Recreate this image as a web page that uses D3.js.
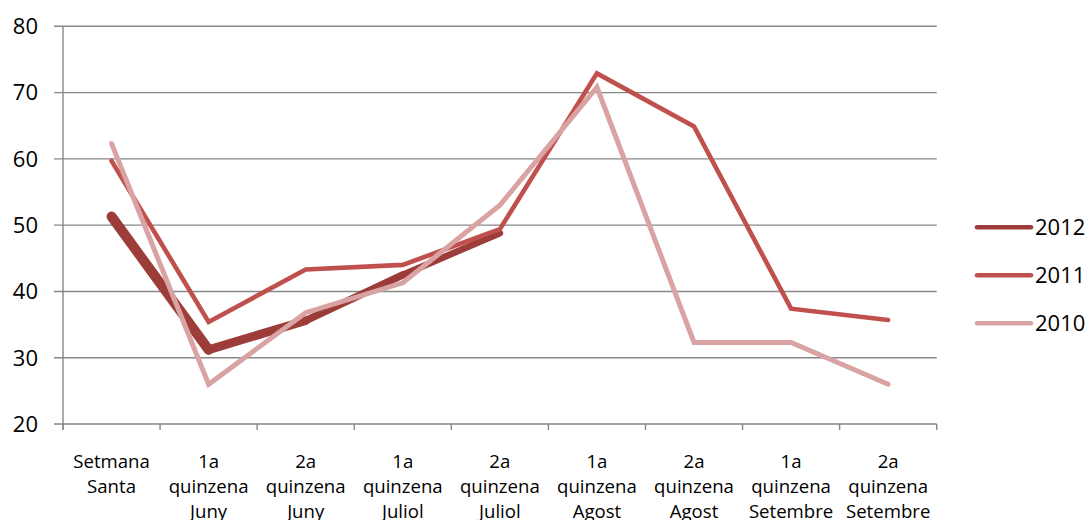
<!DOCTYPE html>
<html><head><meta charset="utf-8">
<script src="https://cdn.jsdelivr.net/npm/d3@7"></script>
<style>body{margin:0;background:#fff}svg{display:block}</style>
</head><body>
<svg id="c" width="1089" height="520"></svg>
<script>
const categories = [
  ["Setmana","Santa"],
  ["1a","quinzena","Juny"],
  ["2a","quinzena","Juny"],
  ["1a","quinzena","Juliol"],
  ["2a","quinzena","Juliol"],
  ["1a","quinzena","Agost"],
  ["2a","quinzena","Agost"],
  ["1a","quinzena","Setembre"],
  ["2a","quinzena","Setembre"]
];
const seriesNames = ["2012","2011","2010"];
const values2012 = [51.3, 31.2, 35.6, 42.5, 48.8, null, null, null, null];
const values2011 = [59.7, 35.4, 43.3, 44.0, 49.4, 72.9, 64.9, 37.4, 35.7];
const values2010 = [62.3, 26.0, 36.8, 41.3, 53.0, 70.8, 32.3, 32.3, 26.0];
const yTicks = [20, 30, 40, 50, 60, 70, 80];
const colors = {"2012":"#9C3D3A","2011":"#C0504D","2010":"#D8A3A2"};

(function(){
const svg = d3.select("#c");
const mL = 63, mR = 936.7, mT = 26.3, mB = 424;
const x = d3.scaleBand().domain(d3.range(categories.length)).range([mL, mR]);
const y = d3.scaleLinear().domain([20, 80]).range([mB, mT]);
const gridCol = "#878787";
const font = "'Open Sans', sans-serif";

// gridlines
svg.append("g").selectAll("line").data(yTicks).join("line")
  .attr("x1", mL - 9).attr("x2", mR)
  .attr("y1", d => y(d)).attr("y2", d => y(d))
  .attr("stroke", gridCol).attr("stroke-width", 1.4);
// y axis line
svg.append("line").attr("x1", mL).attr("x2", mL).attr("y1", mT).attr("y2", mB + 6)
  .attr("stroke", gridCol).attr("stroke-width", 1.4);
// y labels
svg.append("g").selectAll("text").data(yTicks).join("text")
  .attr("x", 38).attr("y", d => y(d) + 7.8)
  .attr("text-anchor", "end").attr("font-family", font).attr("font-size", 22)
  .attr("fill", "#000").text(d => d);
// x ticks at band boundaries
const bounds = d3.range(categories.length + 1).map(i => mL + i * x.step());
svg.append("g").selectAll("line").data(bounds).join("line")
  .attr("x1", d => d).attr("x2", d => d).attr("y1", mB).attr("y2", mB + 6)
  .attr("stroke", gridCol).attr("stroke-width", 1.4);
// x labels
const xl = svg.append("g").selectAll("text").data(categories).join("text")
  .attr("text-anchor", "middle").attr("font-family", font).attr("font-size", 18.6)
  .attr("fill", "#000");
xl.each(function(d, i) {
  const t = d3.select(this);
  d.forEach((ln, j) => {
    t.append("tspan").attr("x", x(i) + x.bandwidth() / 2).attr("y", 468 + j * 25).text(ln);
  });
});

const cx = i => x(i) + x.bandwidth() / 2;
// 2012: thick tapered line drawn segment by segment
const pts2012 = values2012.map((v, i) => [i, v]).filter(d => d[1] != null);
const segW = [10, 8.8, 7.6, 6.6];
const g12 = svg.append("g");
for (let k = 0; k < pts2012.length - 1; k++) {
  const a = pts2012[k], b = pts2012[k + 1];
  g12.append("line").attr("x1", cx(a[0])).attr("y1", y(a[1]))
    .attr("x2", cx(b[0])).attr("y2", y(b[1]))
    .attr("stroke", colors["2012"]).attr("stroke-width", segW[k] || 6.6)
    .attr("stroke-linecap", "round");
}
const line = d3.line().defined(d => d != null).x((d, i) => cx(i)).y(d => y(d));
svg.append("path").datum(values2011).attr("d", line).attr("fill", "none")
  .attr("stroke", colors["2011"]).attr("stroke-width", 4.6).attr("stroke-linejoin", "miter")
  .attr("stroke-linecap", "round");
svg.append("path").datum(values2010).attr("d", line).attr("fill", "none")
  .attr("stroke", colors["2010"]).attr("stroke-width", 5).attr("stroke-linejoin", "miter")
  .attr("stroke-linecap", "round");

// legend
const lg = svg.append("g").selectAll("g").data(seriesNames).join("g")
  .attr("transform", (d, i) => `translate(0,${227.3 + i * 48})`);
lg.append("line").attr("x1", 977).attr("x2", 1031).attr("y1", 0).attr("y2", 0)
  .attr("stroke", d => colors[d]).attr("stroke-width", 4.5).attr("stroke-linecap", "round");
lg.append("text").attr("x", 1035).attr("y", 8).attr("font-family", font).attr("font-size", 22)
  .attr("fill", "#000").text(d => d);
})();
</script>
</body></html>
